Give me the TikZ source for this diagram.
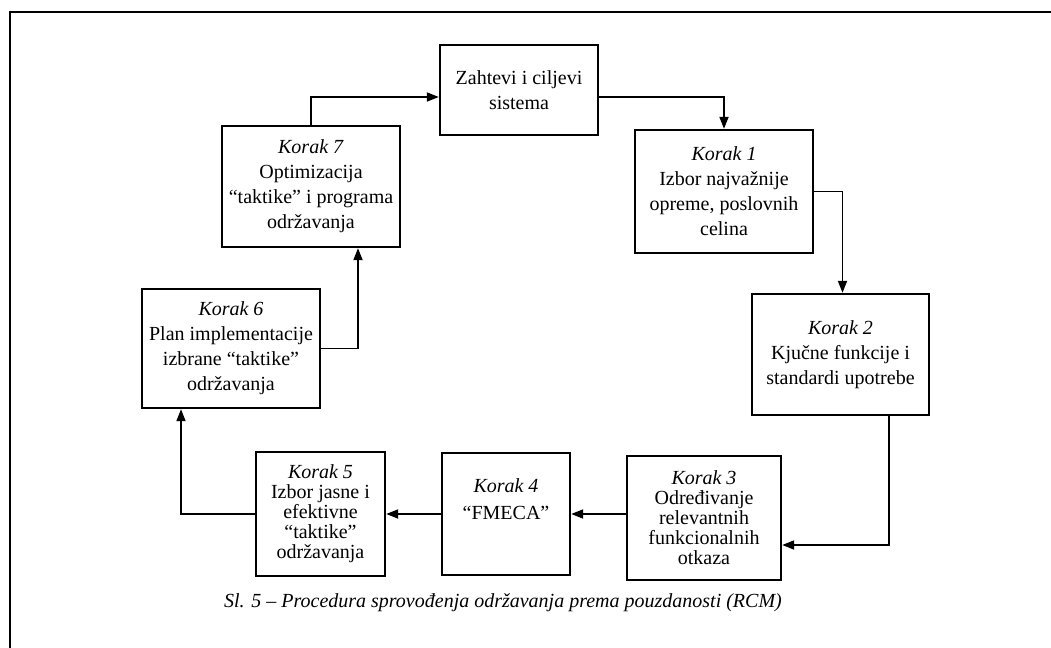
\documentclass[tikz,border=0pt]{standalone}
\usepackage{fontspec}
\setmainfont{Liberation Serif}
\usetikzlibrary{arrows.meta, positioning}

\begin{document}
\begin{tikzpicture}[
    x=0.5pt, y=-0.5pt,
    box/.style={rectangle, draw=black, line width=1.2pt, inner sep=1pt, align=center, font=\fontsize{10}{12.5}\selectfont},
    tightbox/.style={box, font=\fontsize{10}{10}\selectfont},
    arrow/.style={-{Triangle[length=6pt, width=4.5pt]}, line width=0.95pt, draw=black},
    frame/.style={line width=1.4pt, draw=black},
    caption/.style={font=\fontsize{10}{12}\selectfont\itshape}
]
    \useasboundingbox (0,0) rectangle (1051,648);
    \draw[frame] (10,648) -- (10,12) -- (1051,12);

    \node[box, minimum width=79pt, minimum height=45pt] (zah) at (519,90) {Zahtevi i ciljevi\\ sistema};
    \node[box, minimum width=89pt, minimum height=61.5pt] (k1) at (724,191.5) {\textit{Korak 1}\\ Izbor najvažnije\\ opreme, poslovnih\\ celina};
    \node[box, minimum width=88.5pt, minimum height=60.5pt] (k2) at (840.5,354.5) {\textit{Korak 2}\\ Kjučne funkcije i\\ standardi upotrebe};
    \node[tightbox, minimum width=77pt, minimum height=62pt] (k3) at (704,518) {\textit{Korak 3}\\ Određivanje\\ relevantnih\\ funkcionalnih\\ otkaza};
    \node[box, minimum width=64pt, minimum height=61pt] (k4) at (506,514) {\textit{Korak 4}\\[1pt] “FMECA”\\[2pt]};
    \node[tightbox, minimum width=64.5pt, minimum height=62pt] (k5) at (320.5,514) {\textit{Korak 5}\\ Izbor jasne i\\ efektivne\\ “taktike”\\ održavanja};
    \node[box, minimum width=89pt, minimum height=59.5pt] (k6) at (231,348.5) {\textit{Korak 6}\\ Plan implementacije\\ izbrane “taktike”\\ održavanja};
    \node[box, minimum width=89pt, minimum height=60.5pt] (k7) at (311,186.5) {\textit{Korak 7}\\ Optimizacija\\ “taktike” i programa\\ održavanja};

    \draw[arrow] (k7.north) |- ([yshift=-3.5pt]zah.west);
    \draw[arrow] ([yshift=-3.5pt]zah.east) -| (k1.north);
    \draw[arrow] (k1.east) -| ([xshift=1pt]k2.north);
    \draw[arrow] ([xshift=24.25pt]k2.south) |- ([yshift=-13.5pt]k3.east);
    \draw[arrow] (k3.west |- k4.east) -- (k4.east);
    \draw[arrow] (k4.west) -- (k5.east);
    \draw[arrow] (k5.west) -| ([xshift=-25pt]k6.south);
    \draw[arrow] (k6.east) -| ([xshift=23.5pt]k7.south);

    \node[caption] (cap) at (503,603) {Sl. 5 -- Procedura sprovođenja održavanja prema pouzdanosti (RCM)};
\end{tikzpicture}
\end{document}
